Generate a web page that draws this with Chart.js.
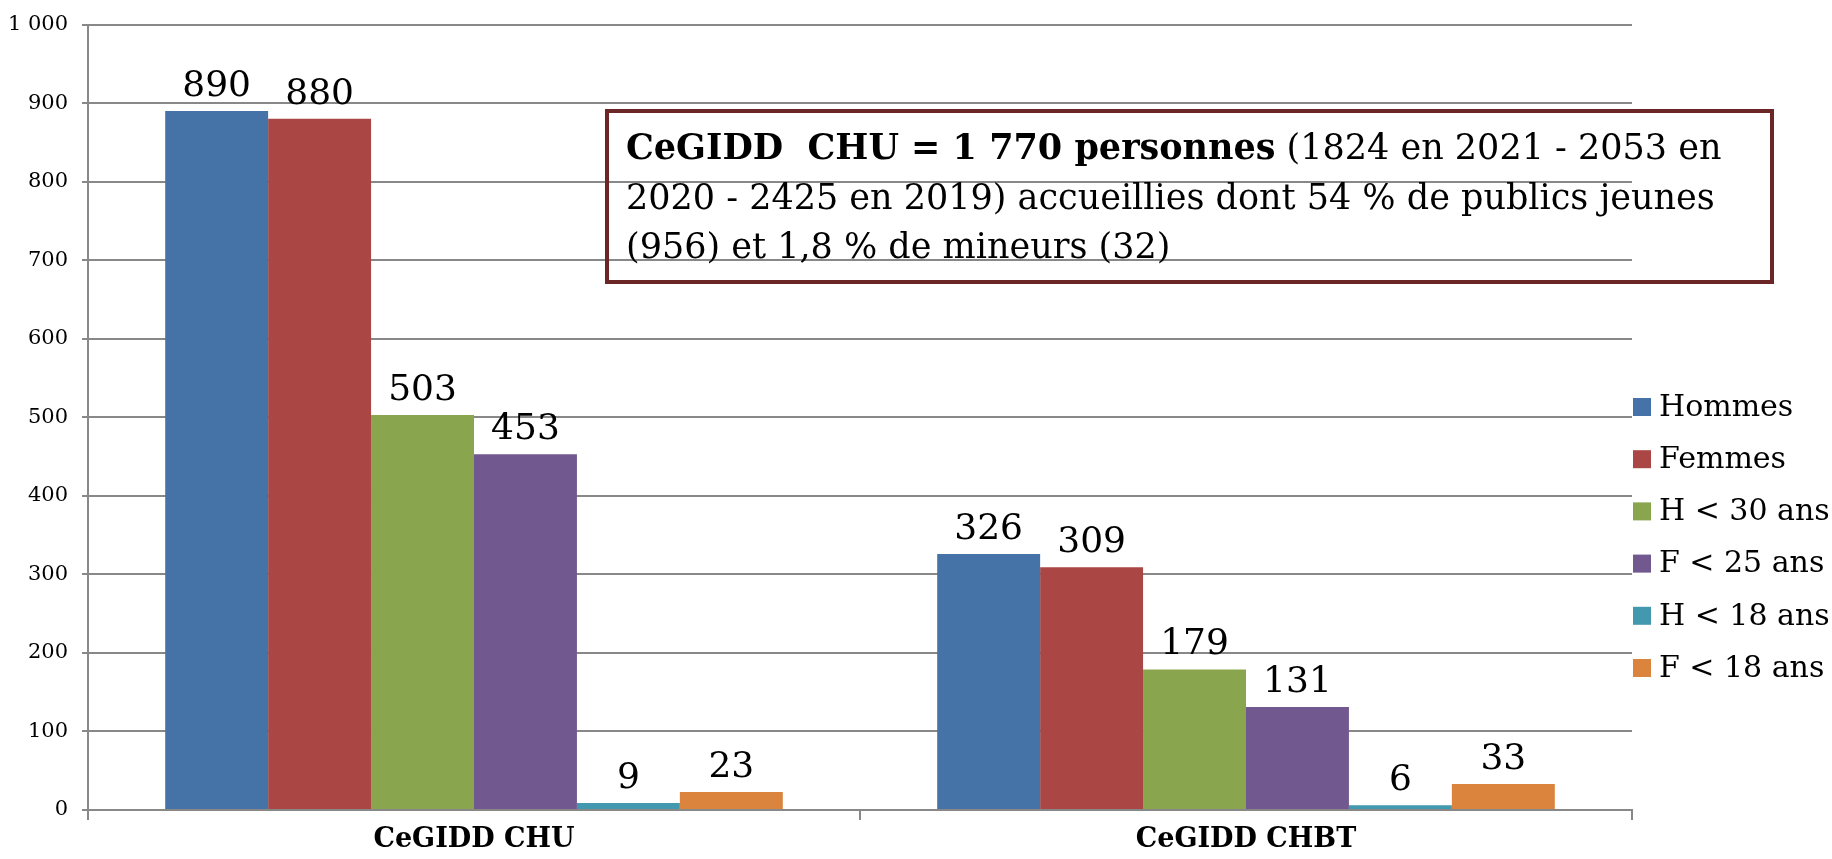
<!DOCTYPE html>
<html>
<head>
<meta charset="utf-8">
<script src="https://cdn.jsdelivr.net/npm/chart.js@4/dist/chart.umd.min.js"></script>
<style>
  html, body { margin: 0; padding: 0; background: #fff; }
</style>
</head>
<body>
<canvas id="chart" width="1832" height="859"></canvas>
<script>
const categories = ["CeGIDD CHU", "CeGIDD CHBT"]
const seriesNames = ["Hommes", "Femmes", "H < 30 ans", "F < 25 ans", "H < 18 ans", "F < 18 ans"]
const hommes = [890, 326]
const femmes = [880, 309]
const hMoins30 = [503, 179]
const fMoins25 = [453, 131]
const hMoins18 = [9, 6]
const fMoins18 = [23, 33]
const yTicks = [0, 100, 200, 300, 400, 500, 600, 700, 800, 900, 1000]
const noteBold = "CeGIDD  CHU = 1 770 personnes"
const noteLines = [
  " (1824 en 2021 - 2053 en",
  "2020 - 2425 en 2019) accueillies dont 54 % de publics jeunes",
  "(956) et 1,8 % de mineurs (32)"
]

const COLORS = ["#4572A7", "#AA4643", "#89A54E", "#71588F", "#4198AF", "#DB843D"]
const SERIES = [hommes, femmes, hMoins30, fMoins25, hMoins18, fMoins18]
const FONT = "'DejaVu Serif', 'Liberation Serif', serif"
const GRID = "#888888"

// value labels above each bar
const barLabels = {
  id: "barLabels",
  afterDatasetsDraw(chart) {
    const ctx = chart.ctx
    ctx.save()
    ctx.font = `36px ${FONT}`
    ctx.fillStyle = "#000"
    ctx.textAlign = "center"
    ctx.textBaseline = "alphabetic"
    chart.data.datasets.forEach((ds, i) => {
      chart.getDatasetMeta(i).data.forEach((bar, j) => {
        ctx.fillText(String(ds.data[j]), bar.x, bar.y - 15)
      })
    })
    ctx.restore()
  }
}

// legend on the right, drawn by hand to match the layout
const sideLegend = {
  id: "sideLegend",
  afterDraw(chart) {
    const ctx = chart.ctx
    const x = chart.chartArea.right + 1
    ctx.save()
    ctx.font = `30px ${FONT}`
    ctx.textBaseline = "middle"
    chart.data.datasets.forEach((ds, i) => {
      const y = 407 + i * 52.2
      ctx.fillStyle = ds.backgroundColor
      ctx.fillRect(x, y - 9, 18, 18)
      ctx.fillStyle = "#000"
      ctx.fillText(ds.label, x + 26, y + 1)
    })
    ctx.restore()
  }
}

// framed note over the plot
const noteBox = {
  id: "noteBox",
  afterDraw(chart) {
    const ctx = chart.ctx
    ctx.save()
    ctx.strokeStyle = "#6B2626"
    ctx.lineWidth = 4
    ctx.strokeRect(607, 111, 1165, 171)
    ctx.fillStyle = "#000"
    ctx.textBaseline = "middle"
    ctx.font = `bold 35px ${FONT}`
    ctx.fillText(noteBold, 626, 150)
    const w = ctx.measureText(noteBold).width
    ctx.font = `35px ${FONT}`
    ctx.fillText(noteLines[0], 626 + w, 150)
    ctx.fillText(noteLines[1], 626, 200)
    ctx.fillText(noteLines[2], 626, 249)
    ctx.restore()
  }
}

new Chart(document.getElementById("chart").getContext("2d"), {
  type: "bar",
  data: {
    labels: categories,
    datasets: SERIES.map((values, i) => ({
      label: seriesNames[i],
      data: values,
      backgroundColor: COLORS[i],
      borderWidth: 0
    }))
  },
  options: {
    responsive: false,
    devicePixelRatio: 1,
    animation: false,
    categoryPercentage: 0.8,
    barPercentage: 1.0,
    layout: { padding: { left: 0, top: 22, right: 200, bottom: 0 } },
    plugins: {
      legend: { display: false },
      tooltip: { enabled: false }
    },
    scales: {
      x: {
        grid: { display: true, drawOnChartArea: false, color: GRID, lineWidth: 2, tickLength: 10, offset: true },
        border: { color: GRID, width: 2 },
        ticks: { color: "#000", font: { family: FONT, size: 27, weight: "bold" }, padding: 4 },
        afterFit(scale) { scale.height = 49 }
      },
      y: {
        min: 0,
        max: 1000,
        afterBuildTicks(scale) { scale.ticks = yTicks.map(v => ({ value: v })) },
        grid: { color: GRID, lineWidth: 2, tickLength: 6 },
        border: { color: GRID, width: 2 },
        ticks: {
          color: "#000",
          padding: 14,
          font: { family: FONT, size: 21, lineHeight: 1 },
          callback: v => v >= 1000 ? "1 000" : String(v)
        },
        afterFit(scale) { scale.width = 88 }
      }
    }
  },
  plugins: [barLabels, sideLegend, noteBox]
})
</script>
</body>
</html>
